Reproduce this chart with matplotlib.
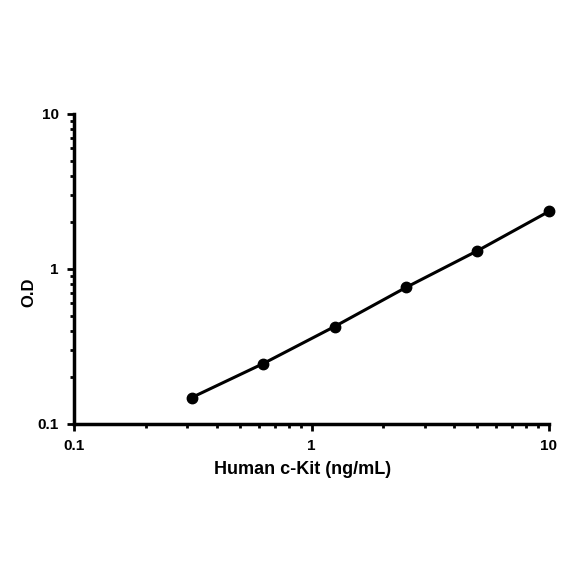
import matplotlib.pyplot as plt
from matplotlib.ticker import FixedLocator, FixedFormatter, LogLocator, NullFormatter

conc = [0.3125, 0.625, 1.25, 2.5, 5, 10]
od = [0.148, 0.245, 0.425, 0.76, 1.31, 2.35]
tick_vals = [0.1, 1, 10]
tick_labels = ['0.1', '1', '10']

plt.rcParams['font.family'] = ['Liberation Sans', 'DejaVu Sans']
plt.rcParams['font.weight'] = 'bold'

fig = plt.figure(figsize=(5.84, 5.84), dpi=100)
ax = fig.add_axes([0.127, 0.274, 0.813, 0.531])

ax.plot(conc, od, color='black', lw=2.2, marker='o', ms=7.5, clip_on=False, zorder=5)
ax.set_xscale('log')
ax.set_yscale('log')
ax.set_xlim(0.1, 10)
ax.set_ylim(0.1, 10)

for axis in (ax.xaxis, ax.yaxis):
    axis.set_major_locator(FixedLocator(tick_vals))
    axis.set_major_formatter(FixedFormatter(tick_labels))
    axis.set_minor_locator(LogLocator(base=10, subs=range(2, 10)))
    axis.set_minor_formatter(NullFormatter())

ax.spines['top'].set_visible(False)
ax.spines['right'].set_visible(False)
ax.spines['left'].set_linewidth(2.5)
ax.spines['bottom'].set_linewidth(2.5)
ax.tick_params(which='major', length=5, width=2, labelsize=11, direction='out', pad=6)
ax.tick_params(which='minor', length=3, width=2, direction='out')
for lab in ax.get_xticklabels() + ax.get_yticklabels():
    lab.set_fontweight('bold')

ax.set_xlabel('Human c-Kit (ng/mL)', fontsize=13, fontweight='bold')
ax.set_ylabel('O.D', fontsize=12, fontweight='bold')
ax.xaxis.set_label_coords(0.482, -0.118)
ax.yaxis.set_label_coords(-0.08, 0.426)

fig.savefig('out.png', dpi=100)
